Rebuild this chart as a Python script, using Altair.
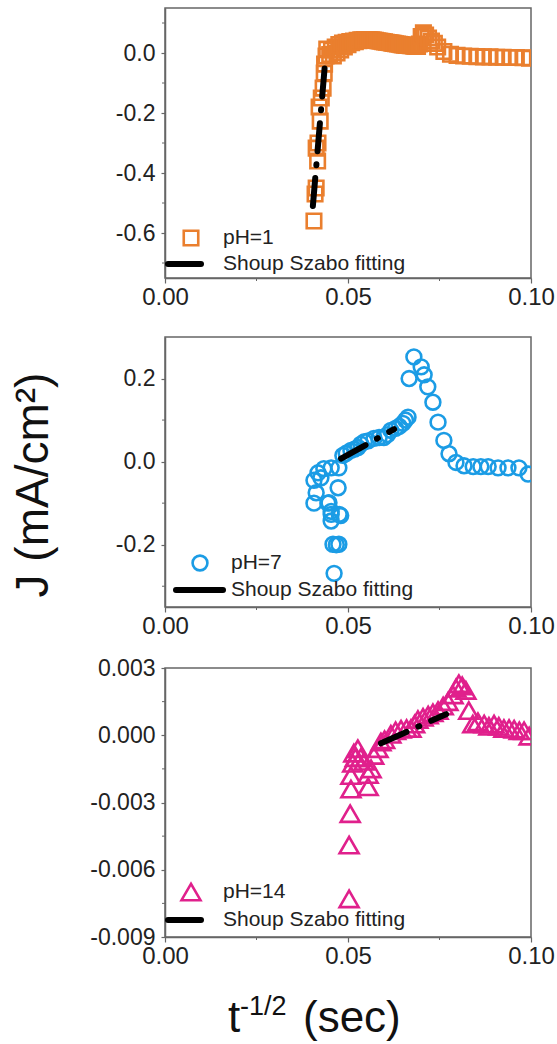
import altair as alt
import pandas as pd

# ---------------- data ----------------
ph1_x = [0.0407, 0.0410, 0.0413, 0.0417, 0.0413, 0.0418, 0.0424, 0.0421, 0.0427, 0.0432,
         0.0435, 0.0436, 0.0440, 0.0442,
         0.0450, 0.0455, 0.0460, 0.0465, 0.0470, 0.0475, 0.0480, 0.0485, 0.0490, 0.0495,
         0.0500, 0.0505, 0.0510, 0.0515, 0.0520, 0.0525, 0.0530, 0.0535, 0.0540, 0.0545,
         0.0550, 0.0555, 0.0560, 0.0565, 0.0570, 0.0575, 0.0580, 0.0585, 0.0590, 0.0595,
         0.0600, 0.0605, 0.0610, 0.0615, 0.0620, 0.0625, 0.0630, 0.0635, 0.0640, 0.0645,
         0.0650, 0.0655, 0.0660, 0.0665, 0.0670, 0.0675, 0.0680, 0.0685, 0.0690, 0.0695,
         0.0700, 0.0706, 0.0712, 0.0720, 0.0728, 0.0736, 0.0745, 0.0762, 0.0780, 0.0798,
         0.0816, 0.0834, 0.0852, 0.0870, 0.0888, 0.0906, 0.0924, 0.0942, 0.0960, 0.0978,
         0.0996]
ph1_y = [-0.56, -0.47, -0.45, -0.36, -0.317, -0.30, -0.227, -0.18, -0.15, -0.117,
         -0.067, -0.037, -0.01, 0.013,
         -0.005, 0.010, -0.010, 0.020, 0.000, 0.028, 0.010, 0.033, 0.020, 0.036,
         0.028, 0.038, 0.034, 0.040, 0.038, 0.042, 0.041, 0.044, 0.043, 0.045,
         0.045, 0.045, 0.044, 0.044, 0.043, 0.042, 0.041, 0.040, 0.039, 0.038,
         0.037, 0.036, 0.035, 0.034, 0.033, 0.032, 0.031, 0.030, 0.029, 0.028,
         0.027, 0.026, 0.025, 0.025, 0.024, 0.024, 0.023, 0.023, 0.022, 0.030,
         0.055, 0.067, 0.060, 0.050, 0.040, 0.032, 0.020, 0.005, -0.004, -0.008,
         -0.010, -0.011, -0.012, -0.013, -0.013, -0.014, -0.014, -0.015, -0.015, -0.016,
         -0.017]
fit1_x = [0.0404, 0.0437]
fit1_y = [-0.51, -0.037]

ph7_x = [0.0407, 0.0413, 0.0407, 0.0418, 0.0426, 0.0434, 0.0454, 0.0445, 0.0448, 0.0454,
         0.0454, 0.0454, 0.0473, 0.0476, 0.0480, 0.0459, 0.0475, 0.0468, 0.0462,
         0.0475, 0.0486, 0.0495, 0.0508, 0.0518, 0.0527, 0.0535, 0.0545, 0.0555, 0.0571,
         0.0585, 0.0598, 0.0608, 0.0617, 0.0630, 0.0640, 0.0650, 0.0657, 0.0664,
         0.0667, 0.0680, 0.0700, 0.0708, 0.0718, 0.0732, 0.0746, 0.0762, 0.0776, 0.0795,
         0.0817, 0.0842, 0.0863, 0.0883, 0.0910, 0.0937, 0.0967, 0.0992]
ph7_y = [-0.045, -0.075, -0.100, -0.027, -0.039, -0.017, -0.015, -0.100, -0.099, -0.120,
         -0.127, -0.143, -0.063, -0.127, -0.130, -0.199, -0.199, -0.200, -0.269,
         -0.015, 0.015, 0.020, 0.027, 0.030, 0.034, 0.042, 0.048, 0.050, 0.056,
         0.058, 0.058, 0.065, 0.075, 0.080, 0.085, 0.092, 0.100, 0.107,
         0.200, 0.252, 0.228, 0.209, 0.180, 0.143, 0.095, 0.051, 0.019, -0.002,
         -0.010, -0.012, -0.012, -0.012, -0.015, -0.015, -0.015, -0.030]
fit7_x = [0.0481, 0.0626]
fit7_y = [0.0073, 0.078]

ph14_x = [0.0503, 0.0503, 0.0506, 0.0508, 0.0508, 0.0513, 0.0516, 0.0527, 0.0520, 0.0535,
          0.0544, 0.0555, 0.0555, 0.0563, 0.0570, 0.0582, 0.0590, 0.0600, 0.0617, 0.0630,
          0.0645, 0.0660, 0.0672, 0.0682, 0.0691, 0.0705, 0.0719, 0.0732, 0.0746, 0.0760,
          0.0773, 0.0787, 0.0795, 0.0803, 0.0812, 0.0822, 0.0830, 0.0841, 0.0855, 0.0872,
          0.0885, 0.0899, 0.0912, 0.0926, 0.0940, 0.0954, 0.0968, 0.0981, 0.0995]
ph14_y = [-0.0073, -0.0049, -0.0035, -0.0024, -0.0018, -0.00125, -0.0008, -0.0006, -0.0010, -0.0010,
          -0.00116, -0.0023, -0.00175, -0.0015, -0.0009, -0.0006, -0.0003, -0.0002, 0.00004, 0.0002,
          0.00027, 0.0003, 0.0003, 0.0005, 0.0007, 0.0008, 0.0009, 0.0010, 0.0011, 0.0013,
          0.0015, 0.0018, 0.0021, 0.0023, 0.0022, 0.0020, 0.0011, 0.0005, 0.0006, 0.0005,
          0.0004, 0.0005, 0.0004, 0.0003, 0.0003, 0.00027, 0.0002, 0.0002, -0.00004]
fit14_x = [0.0590, 0.0768]
fit14_y = [-0.00036, 0.00094]

series_labels = ["pH=1", "pH=7", "pH=14"]
fit_label = "Shoup Szabo fitting"
y_title = "J (mA/cm\u00b2)"
x_title_parts = ["t", "-1/2", "(sec)"]

x_ticks = [0.0, 0.05, 0.10]
x_minor = [0.025, 0.075]
y1_ticks = [-0.6, -0.4, -0.2, 0.0]
y1_minor = [-0.7, -0.5, -0.3, -0.1, 0.1]
y7_ticks = [-0.2, 0.0, 0.2]
y7_minor = [-0.3, -0.1, 0.1]
y14_ticks = [-0.009, -0.006, -0.003, 0.0, 0.003]
y14_minor = [-0.0075, -0.0045, -0.0015, 0.0015]

# ---------------- styling ----------------
FONT = "Liberation Sans"
AX = "#666666"
W = 366


def panel(px, py, fx, fy, color, shape, size, ydom, yticks, yminor, fmt, label,
          height, leg, extra=None):
    pts = pd.DataFrame({"x": px, "y": py})
    fit = pd.DataFrame({"x": fx, "y": fy})
    xs = alt.Scale(domain=[0, 0.1], nice=False, zero=False)
    ys = alt.Scale(domain=ydom, nice=False, zero=False)
    lexpr = (f"datum.value < 0 ? '-' + format(-datum.value, '{fmt}') "
             f": format(datum.value, '{fmt}')")
    xaxis = alt.Axis(values=x_ticks, format=".2f", title=None, grid=False,
                     labels=True, labelFontSize=24, labelPadding=2, tickSize=5,
                     labelFlush=False, labelFont=FONT, labelColor="#222222")
    yaxis = alt.Axis(values=yticks, labelExpr=lexpr, title=None, grid=False,
                     labels=True, labelFontSize=23, labelPadding=6, tickSize=4,
                     labelFlush=False, labelFont=FONT, labelColor="#222222")
    X = lambda f: alt.X(f, scale=xs, axis=xaxis)
    Y = lambda f: alt.Y(f, scale=ys, axis=yaxis)
    points = alt.Chart(pts).mark_point(
        shape=shape, filled=False, color=color, size=size, strokeWidth=2.6,
        opacity=1, clip=True
    ).encode(x=X("x:Q"), y=Y("y:Q"))
    fitl = alt.Chart(fit).mark_line(
        color="black", strokeWidth=6, strokeDash=[28, 13, 1, 13], strokeCap="round"
    ).encode(x=X("x:Q"), y=Y("y:Q"))
    xm = alt.Chart(pd.DataFrame({"x": x_minor})).mark_rule(color=AX, strokeWidth=1).encode(
        x=X("x:Q"), y=alt.value(height), y2=alt.value(height + 3))
    ym = alt.Chart(pd.DataFrame({"y": yminor})).mark_rule(color=AX, strokeWidth=1).encode(
        y=Y("y:Q"), x=alt.value(-3), x2=alt.value(0))
    (sx, sy, tx, ty, lx0, lx1, ly) = leg
    lp = alt.Chart(pd.DataFrame({"l": [label]})).mark_point(
        shape=shape, filled=False, color=color, size=size, strokeWidth=2.6, opacity=1
    ).encode(x=alt.value(sx), y=alt.value(sy))
    lt1 = alt.Chart(pd.DataFrame({"l": [label]})).mark_text(
        align="left", baseline="middle", font=FONT, fontSize=21, color="#222222"
    ).encode(x=alt.value(tx), y=alt.value(sy), text="l:N")
    lr = alt.Chart(pd.DataFrame({"l": [fit_label]})).mark_rule(
        color="black", strokeWidth=6, strokeCap="round"
    ).encode(x=alt.value(lx0), x2=alt.value(lx1), y=alt.value(ly))
    lt2 = alt.Chart(pd.DataFrame({"l": [fit_label]})).mark_text(
        align="left", baseline="middle", font=FONT, fontSize=21, color="#222222"
    ).encode(x=alt.value(tx), y=alt.value(ly), text="l:N")
    layers = [points, fitl, xm, ym, lp, lt1, lr, lt2]
    if extra:
        layers += extra
    return alt.layer(*layers).properties(width=W, height=height)


# y title (on middle panel)
ytitle = alt.Chart(pd.DataFrame({"t": [y_title]})).mark_text(
    angle=270, align="center", baseline="alphabetic", font=FONT, fontSize=46, color="#111111"
).encode(x=alt.value(-117), y=alt.value(148), text="t:N")

# invisible spacer so the middle panel has a top overhang like the bottom one
spacer = alt.Chart(pd.DataFrame({"s": [0]})).mark_rule(opacity=0).encode(
    x=alt.value(0), y=alt.value(-9), y2=alt.value(0))

# x title (on bottom panel)
xt_df = pd.DataFrame({"t": x_title_parts})
xt1 = alt.Chart(xt_df).transform_filter("datum.t == 't'").mark_text(
    align="left", baseline="alphabetic", font=FONT, fontSize=44, color="#111111"
).encode(x=alt.value(63), y=alt.value(364), text="t:N")
xt2 = alt.Chart(xt_df).transform_filter("datum.t == '-1/2'").mark_text(
    align="left", baseline="alphabetic", font=FONT, fontSize=27, color="#111111"
).encode(x=alt.value(75), y=alt.value(347), text="t:N")
xt3 = alt.Chart(xt_df).transform_filter("datum.t == '(sec)'").mark_text(
    align="left", baseline="alphabetic", font=FONT, fontSize=44, color="#111111"
).encode(x=alt.value(138), y=alt.value(364), text="t:N")

top = panel(ph1_x, ph1_y, fit1_x, fit1_y, "#EA7F2E", "square", 210,
            [-0.75, 0.15], y1_ticks, y1_minor, ".1f", series_labels[0], 270,
            (26, 230, 58, 230, 3, 36, 256))
mid = panel(ph7_x, ph7_y, fit7_x, fit7_y, "#1B9CE5", "circle", 220,
            [-0.35, 0.30], y7_ticks, y7_minor, ".1f", series_labels[1], 270,
            (35, 226, 66, 226, 11, 58, 253), extra=[ytitle, spacer])
bot = panel(ph14_x, ph14_y, fit14_x, fit14_y, "#E0208C", "triangle-up", 360,
            [-0.009, 0.003], y14_ticks, y14_minor, ".3f", series_labels[2], 269,
            (26, 224, 58, 224, 3, 36, 252), extra=[xt1, xt2, xt3])

chart = alt.vconcat(top, mid, bot, spacing=17).properties(
    padding={"left": 10, "top": 7, "right": 0, "bottom": 0},
    background="white",
).configure_view(stroke=AX, strokeWidth=1.5).configure_axis(
    domainColor=AX, tickColor=AX, domainWidth=1.5, tickWidth=1.2
)

chart.save("out.html", embed_options={"renderer": "svg", "actions": False})
